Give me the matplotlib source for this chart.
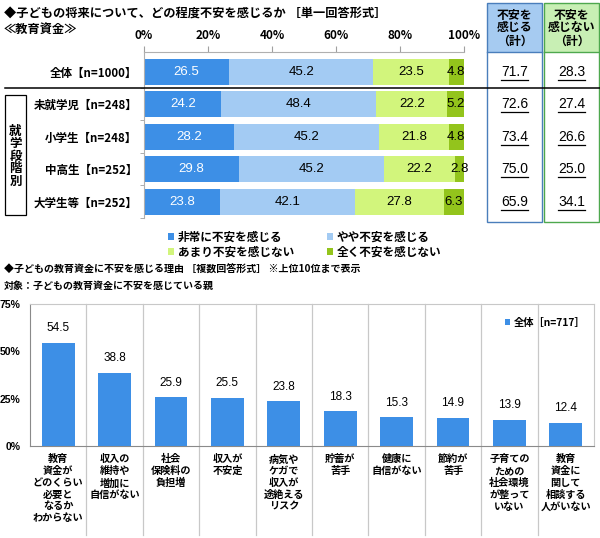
import matplotlib
matplotlib.use("Agg")
import matplotlib.pyplot as plt
import matplotlib.transforms as mtransforms
from matplotlib.patches import Rectangle, Patch
from matplotlib.lines import Line2D

plt.rcParams['font.family'] = ['Noto Sans CJK JP', 'DejaVu Sans']

# ---------------- data ----------------
title1 = "◆子どもの将来について、どの程度不安を感じるか ［単一回答形式］"
subtitle1 = "≪教育資金≫"
row_labels = ["全体【n=1000】", "未就学児【n=248】", "小学生【n=248】", "中高生【n=252】", "大学生等【n=252】"]
series_names = ["非常に不安を感じる", "やや不安を感じる", "あまり不安を感じない", "全く不安を感じない"]
very_anxious = [26.5, 24.2, 28.2, 29.8, 23.8]
somewhat_anxious = [45.2, 48.4, 45.2, 45.2, 42.1]
not_very_anxious = [23.5, 22.2, 21.8, 22.2, 27.8]
not_at_all = [4.8, 5.2, 4.8, 2.8, 6.3]
anxious_total = [71.7, 72.6, 73.4, 75.0, 65.9]
not_anxious_total = [28.3, 27.4, 26.6, 25.0, 34.1]
box_headers = ["不安を\n感じる\n（計）", "不安を\n感じない\n（計）"]
group_label = "就学段階別"
x_ticks_top = [0, 20, 40, 60, 80, 100]

title2 = "◆子どもの教育資金に不安を感じる理由 ［複数回答形式］ ※上位10位まで表示"
subtitle2 = "対象：子どもの教育資金に不安を感じている親"
reasons = ["教育\n資金が\nどのくらい\n必要と\nなるか\nわからない",
           "収入の\n維持や\n増加に\n自信がない",
           "社会\n保険料の\n負担増",
           "収入が\n不安定",
           "病気や\nケガで\n収入が\n途絶える\nリスク",
           "貯蓄が\n苦手",
           "健康に\n自信がない",
           "節約が\n苦手",
           "子育ての\nための\n社会環境\nが整って\nいない",
           "教育\n資金に\n関して\n相談する\n人がいない"]
reason_values = [54.5, 38.8, 25.9, 25.5, 23.8, 18.3, 15.3, 14.9, 13.9, 12.4]
legend2 = "全体［n=717］"
y_ticks_bottom = [0, 25, 50, 75]

# ---------------- styles ----------------
W, H = 600, 538
colors = ["#3d8fe6", "#a3cbf3", "#d2f57c", "#93c41c"]
text_colors = ["white", "black", "black", "black"]
NUM = "Liberation Sans"

fig = plt.figure(figsize=(W / 100, H / 100), dpi=100)
fig.patch.set_facecolor("white")


def add_ax(x0, y0, x1, y1):
    return fig.add_axes([x0 / W, 1 - y1 / H, (x1 - x0) / W, (y1 - y0) / H])


def fx(x):
    return x / W


def fy(y):
    return 1 - y / H


# titles
fig.text(fx(4), fy(13), title1, fontsize=8.8, fontweight="bold", va="center", ha="left")
fig.text(fx(4), fy(29), subtitle1, fontsize=8.8, fontweight="bold", va="center", ha="left")

# ---------------- top stacked bar chart ----------------
ax1 = add_ax(144, 52, 464, 218)
ypos = list(range(len(row_labels)))
series = [very_anxious, somewhat_anxious, not_very_anxious, not_at_all]
left = [0.0] * len(row_labels)
for vals, col, tcol in zip(series, colors, text_colors):
    ax1.barh(ypos, vals, left=left, height=0.8, color=col, edgecolor="none")
    for i, v in enumerate(vals):
        ax1.text(left[i] + v / 2, i, f"{v:.1f}", ha="center", va="center",
                 fontsize=9.5, color=tcol, family=NUM)
    left = [l + v for l, v in zip(left, vals)]

ax1.set_xlim(0, 100)
ax1.set_ylim(4.5, -0.6)
ax1.xaxis.tick_top()
ax1.set_xticks(x_ticks_top)
ax1.set_xticklabels([f"{t}%" for t in x_ticks_top], fontsize=8.5, fontweight="bold")
ax1.tick_params(axis="x", length=4, color="#a0a0a0", pad=3)
ax1.set_yticks(ypos)
ax1.set_yticklabels(row_labels, fontsize=8.3, fontweight="bold")
ax1.tick_params(axis="y", length=0, pad=5)
ax1.set_yticks([i + 0.5 for i in range(len(row_labels))], minor=True)
ax1.tick_params(axis="y", which="minor", length=3, color="#a0a0a0")
for s in ["right", "bottom"]:
    ax1.spines[s].set_visible(False)
ax1.spines["left"].set_color("#b0b0b0")
ax1.spines["top"].set_color("#b0b0b0")
ax1.spines["left"].set_linewidth(0.8)
ax1.spines["top"].set_linewidth(0.8)
ax1.patch.set_alpha(0)

# top legend
handles = [Patch(facecolor=c, edgecolor="none") for c in colors]
order = [0, 2, 1, 3]
ax1.legend([handles[i] for i in order], [series_names[i] for i in order],
           ncol=2, loc="upper left", bbox_to_anchor=(fx(162), fy(225)),
           bbox_transform=fig.transFigure, frameon=False, borderpad=0,
           handlelength=0.55, handleheight=0.55, handletextpad=0.3,
           columnspacing=2.8, labelspacing=0.15,
           prop={"size": 8.4, "weight": "bold"})

# separator line under 全体
fig.add_artist(Line2D([fx(5), fx(600)], [fy(87.5), fy(87.5)], color="black", lw=1.1,
                      transform=fig.transFigure))

# group box
fig.add_artist(Rectangle((fx(5), fy(215)), (26 - 5) / W, (215 - 95) / H, fill=False,
                         edgecolor="black", lw=0.9, transform=fig.transFigure))
fig.text(fx(15.5), fy(156), "\n".join(group_label), fontsize=9, fontweight="bold",
         ha="center", va="center", linespacing=0.95)

# right boxes
box_specs = [(487, 542, "#4a7ebb", "#a6cbf1", anxious_total),
             (544, 599, "#4ea84e", "#c8efb4", not_anxious_total)]
blend = mtransforms.blended_transform_factory(fig.transFigure, ax1.transData)
value_texts = []
for (x0, x1, ec, hc, vals), head in zip(box_specs, box_headers):
    fig.add_artist(Rectangle((fx(x0), fy(52)), (x1 - x0) / W, (52 - 3) / H,
                             facecolor=hc, edgecolor="none", transform=fig.transFigure))
    fig.add_artist(Rectangle((fx(x0), fy(222)), (x1 - x0) / W, (222 - 3) / H,
                             fill=False, edgecolor=ec, lw=1.0, transform=fig.transFigure))
    fig.add_artist(Line2D([fx(x0), fx(x1)], [fy(52), fy(52)], color=ec, lw=1.0,
                          transform=fig.transFigure))
    xc = fx((x0 + x1) / 2)
    fig.text(xc, fy(28), head, fontsize=8.6, fontweight="bold", ha="center", va="center",
             linespacing=1.0)
    for i, v in enumerate(vals):
        t = fig.text(xc, i, f"{v:.1f}", transform=blend, ha="center", va="center",
                     fontsize=10, family=NUM)
        value_texts.append(t)

# ---------------- bottom bar chart ----------------
fig.text(fx(4), fy(270), title2, fontsize=7.2, fontweight="bold", va="center", ha="left")
fig.text(fx(4), fy(286), subtitle2, fontsize=7.2, fontweight="bold", va="center", ha="left")

ax2 = add_ax(30, 304, 594, 446)
xpos = list(range(len(reasons)))
ax2.bar(xpos, reason_values, width=0.585, color=colors[0], edgecolor="none", zorder=3)
for x, v in zip(xpos, reason_values):
    ax2.annotate(f"{v:.1f}", (x, v), xytext=(0, 6), textcoords="offset points",
                 ha="center", va="bottom", fontsize=8.5, family=NUM)
ax2.set_xlim(-0.5, len(reasons) - 0.5)
ax2.set_ylim(0, 75)
ax2.set_yticks(y_ticks_bottom)
ax2.set_yticklabels([f"{t}%" for t in y_ticks_bottom], fontsize=7.5, fontweight="bold",
                    family=[NUM, "Noto Sans CJK JP"])
ax2.tick_params(axis="y", length=0, pad=7)
ax2.set_xticks(xpos)
ax2.set_xticklabels(reasons, fontsize=7.3, fontweight="bold", linespacing=1.22, va="top")
ax2.tick_params(axis="x", length=0, pad=6)
ax2.spines["left"].set_color("#8a8a8a")
ax2.spines["bottom"].set_color("#8a8a8a")
ax2.spines["top"].set_color("#c8c8c8")
ax2.spines["right"].set_color("#c8c8c8")
sep_tr = mtransforms.blended_transform_factory(ax2.transData, ax2.transAxes)
for k in range(1, len(reasons)):
    ax2.add_line(Line2D([k - 0.5, k - 0.5], [1, -0.63], transform=sep_tr, color="#c8c8c8",
                        lw=0.9, clip_on=False, zorder=1))
ax2.legend([Patch(facecolor=colors[0], edgecolor="none")], [legend2], loc="center left",
           bbox_to_anchor=(fx(500), fy(323)), bbox_transform=fig.transFigure,
           frameon=False, borderpad=0, handlelength=0.5, handleheight=0.5,
           handletextpad=0.3, prop={"size": 7.4, "weight": "bold"})

# underline the box values
fig.canvas.draw()
renderer = fig.canvas.get_renderer()
for t in value_texts:
    bb = t.get_window_extent(renderer)
    yline = bb.y0 - 1
    fig.add_artist(Line2D([bb.x0 / fig.bbox.width, bb.x1 / fig.bbox.width],
                          [yline / fig.bbox.height, yline / fig.bbox.height],
                          color="black", lw=0.9, transform=fig.transFigure))

fig.savefig("out.png", dpi=100, facecolor="white")
